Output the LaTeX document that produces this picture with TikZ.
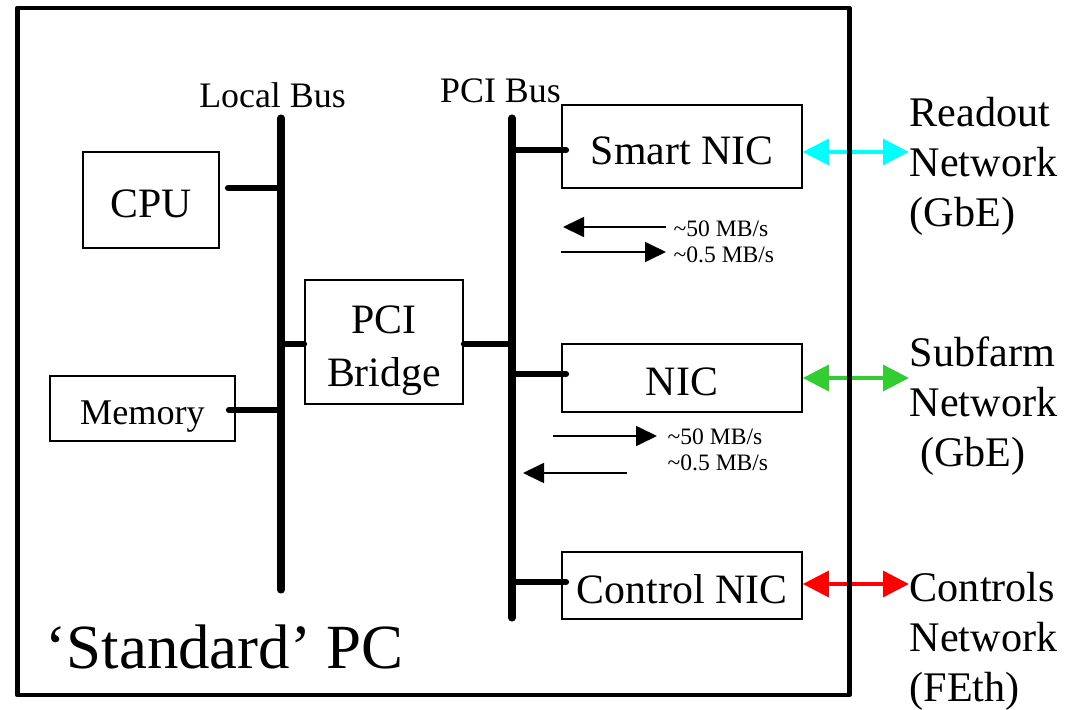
\documentclass[tikz,border=0pt]{standalone}
\usepackage{fontspec}
\setmainfont{Liberation Serif}
\usepackage{xcolor}
\usetikzlibrary{arrows.meta, positioning, calc}
\definecolor{readcyan}{RGB}{0,255,255}
\definecolor{subgreen}{RGB}{51,204,51}

\begin{document}
\begin{tikzpicture}[
    unit/.style={rectangle, draw=black, line width=0.5pt, inner sep=0pt, align=center, text height=0.35cm, text depth=0pt, font=\fontsize{11.9}{14.6}\selectfont},
    buslabel/.style={inner sep=0pt, anchor=base, font=\fontsize{10.2}{12}\selectfont},
    netlabel/.style={inner sep=0pt, anchor=north west, align=left, font=\fontsize{12}{14.2}\selectfont},
    rate/.style={inner sep=0pt, anchor=base west, font=\fontsize{6.7}{8}\selectfont},
    bus/.style={line width=2pt, line cap=round},
    stub/.style={line width=1.7pt, line cap=round},
    flow/.style={line width=0.5pt, -{Triangle[length=2.1mm, width=2mm]}},
    netlink/.style={line width=1pt, {Triangle[length=2.6mm, width=2.6mm]}-{Triangle[length=2.6mm, width=2.6mm]}}
]
\useasboundingbox (0,0) rectangle (10.76,-7.10);

% Buses
\coordinate (lbtop) at (2.81,-1.18);
\coordinate (lbbot) at (2.81,-5.90);
\coordinate (pbtop) at (5.12,-1.18);
\coordinate (pbbot) at (5.12,-6.18);
\draw[bus] (lbtop) -- (lbbot);
\draw[bus] (pbtop) -- (pbbot);
\node[buslabel] (lblabel) at (2.725,-1.07) {Local Bus};
\node[buslabel] (pblabel) at (5.005,-1.03) {PCI Bus};

% Units
\node[unit, minimum width=1.36cm, minimum height=0.96cm, font=\fontsize{11.9}{14}\selectfont] (cpu) at (1.51,-2.00) {CPU};
\node[unit, minimum width=1.85cm, minimum height=0.65cm, font=\fontsize{10.3}{12}\selectfont, text height=0.32cm] (mem) at (1.425,-4.085) {Memory};
\node[unit, minimum width=1.58cm, minimum height=1.24cm, font=\fontsize{11.9}{14.8}\selectfont, text height=0.88cm] (bridge) at (3.84,-3.42) {PCI\\Bridge};
\node[unit, minimum width=2.40cm, minimum height=0.83cm] (smart) at (6.82,-1.465) {Smart NIC};
\node[unit, minimum width=2.40cm, minimum height=0.68cm] (nic) at (6.82,-3.78) {NIC};
\node[unit, minimum width=2.40cm, minimum height=0.67cm] (ctrl) at (6.82,-5.855) {Control NIC};

% Bus taps
\coordinate (cputap) at (2.81,-1.88);
\coordinate (memtap) at (2.81,-4.10);
\coordinate (smarttap) at (5.12,-1.50);
\coordinate (nictap) at (5.12,-3.74);
\coordinate (ctrltap) at (5.12,-5.82);
\draw[stub] ($(cpu.east |- cputap)+(0.08,0)$) -- (cputap);
\draw[stub] ($(mem.east |- memtap)+(-0.07,0)$) -- (memtap);
\draw[stub] ([yshift=-0.2mm]bridge.west -| lbtop) -- ([yshift=-0.2mm]bridge.west);
\draw[stub] ([yshift=-0.2mm]bridge.east) -- ([yshift=-0.2mm]bridge.east -| pbtop);
\draw[stub] (smarttap) -- ($(smart.west |- smarttap)+(0.05,0)$);
\draw[stub] (nictap) -- ($(nic.west |- nictap)+(0.05,0)$);
\draw[stub] (ctrltap) -- ($(ctrl.west |- ctrltap)+(0.05,0)$);

% Rates
\coordinate (up1s) at (6.66,-2.27);
\coordinate (up1e) at (5.63,-2.27);
\coordinate (dn1s) at (5.61,-2.52);
\coordinate (dn1e) at (6.66,-2.52);
\draw[flow] (up1s) -- (up1e);
\draw[flow] (dn1s) -- (dn1e);
\node[rate] (r1) at (6.73,-2.365) {\textasciitilde50 MB/s};
\node[rate] (r2) at (6.73,-2.625) {\textasciitilde0.5 MB/s};

\coordinate (dn2s) at (5.53,-4.36);
\coordinate (dn2e) at (6.57,-4.36);
\coordinate (up2s) at (6.27,-4.73);
\coordinate (up2e) at (5.23,-4.73);
\draw[flow] (dn2s) -- (dn2e);
\draw[flow] (up2s) -- (up2e);
\node[rate] (r3) at (6.67,-4.445) {\textasciitilde50 MB/s};
\node[rate] (r4) at (6.67,-4.705) {\textasciitilde0.5 MB/s};

% Networks
\node[netlabel] (readout) at (9.09,-0.97) {Readout\\Network\\(GbE)};
\node[netlabel] (subfarm) at (9.09,-3.36) {Subfarm\\Network\\\ (GbE)};
\node[netlabel] (controls) at (9.09,-5.72) {Controls\\Network\\(FEth)};
\draw[netlink, readcyan] ([yshift=-0.55mm]smart.east) -- ([yshift=-0.55mm]smart.east -| readout.west);
\draw[netlink, subgreen] (nic.east) -- (nic.east -| subfarm.west);
\draw[netlink, red] ([yshift=0.15mm]ctrl.east) -- ([yshift=0.15mm]ctrl.east -| controls.west);

% PC frame
\draw[line width=1.42pt, line join=round] (0.175,-0.08) rectangle (8.49,-6.95);
\node[inner sep=0pt, anchor=base west, font=\fontsize{17.9}{20}\selectfont] (pc) at (0.45,-6.68) {‘Standard’ PC};

\end{tikzpicture}
\end{document}
